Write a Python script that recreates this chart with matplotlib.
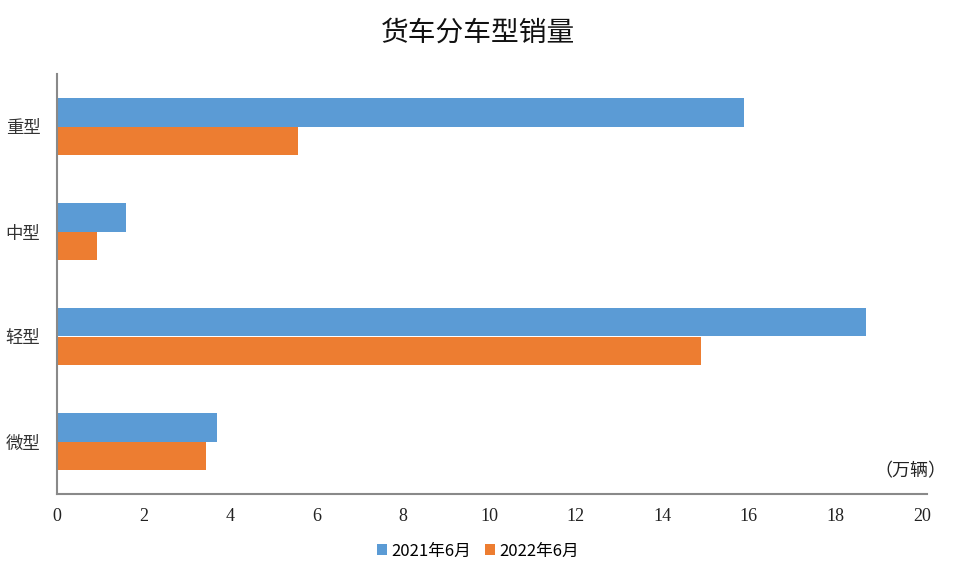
import numpy as np
import matplotlib.pyplot as plt

plt.rcParams['font.family'] = ['Noto Sans CJK SC', 'DejaVu Sans']

# 数据（万辆）
categories = ['重型', '中型', '轻型', '微型']
sales_2021 = [15.88, 1.60, 18.72, 3.70]
sales_2022 = [5.57, 0.92, 14.90, 3.44]
series_labels = ['2021年6月', '2022年6月']
x_ticks = [0, 2, 4, 6, 8, 10, 12, 14, 16, 18, 20]

blue = '#5B9BD5'
orange = '#ED7D31'
axis_gray = '#898989'

fig = plt.figure(figsize=(9.56, 5.73), dpi=100)
ax = fig.add_axes([57 / 956, 79 / 573, 870 / 956, 420 / 573])

y = np.arange(len(categories))
h = 0.272
ax.barh(y - h / 2, sales_2021, height=h, color=blue, label=series_labels[0])
ax.barh(y + h / 2, sales_2022, height=h, color=orange, label=series_labels[1])

ax.set_ylim(len(categories) - 0.5, -0.5)
ax.set_xlim(0, 20.12)
ax.set_yticks(y)
ax.set_yticklabels(categories, fontsize=12.5, color='#333333')
ax.set_xticks(x_ticks)
ax.set_xticklabels([str(v) for v in x_ticks], fontsize=13,
                   family=['Liberation Serif'], color='#222222')
ax.tick_params(length=0)
ax.tick_params(axis='y', pad=12)
ax.tick_params(axis='x', pad=10)

for side in ['top', 'right']:
    ax.spines[side].set_visible(False)
for side in ['left', 'bottom']:
    ax.spines[side].set_color(axis_gray)
    ax.spines[side].set_linewidth(1.5)

fig.text(0.5, 1 - 33 / 573, '货车分车型销量', ha='center', va='center',
         fontsize=20, color='#111111')
fig.text(946 / 956, 1 - 471 / 573, '（万辆）', ha='right', va='center',
         fontsize=13, color='#222222')

leg = fig.legend(loc='center', bbox_to_anchor=(0.5, 1 - 551 / 573), ncol=2,
                 frameon=False, fontsize=12, handlelength=0.6, handleheight=0.6,
                 handletextpad=0.3, columnspacing=0.8)

fig.savefig('out.png', dpi=100)
